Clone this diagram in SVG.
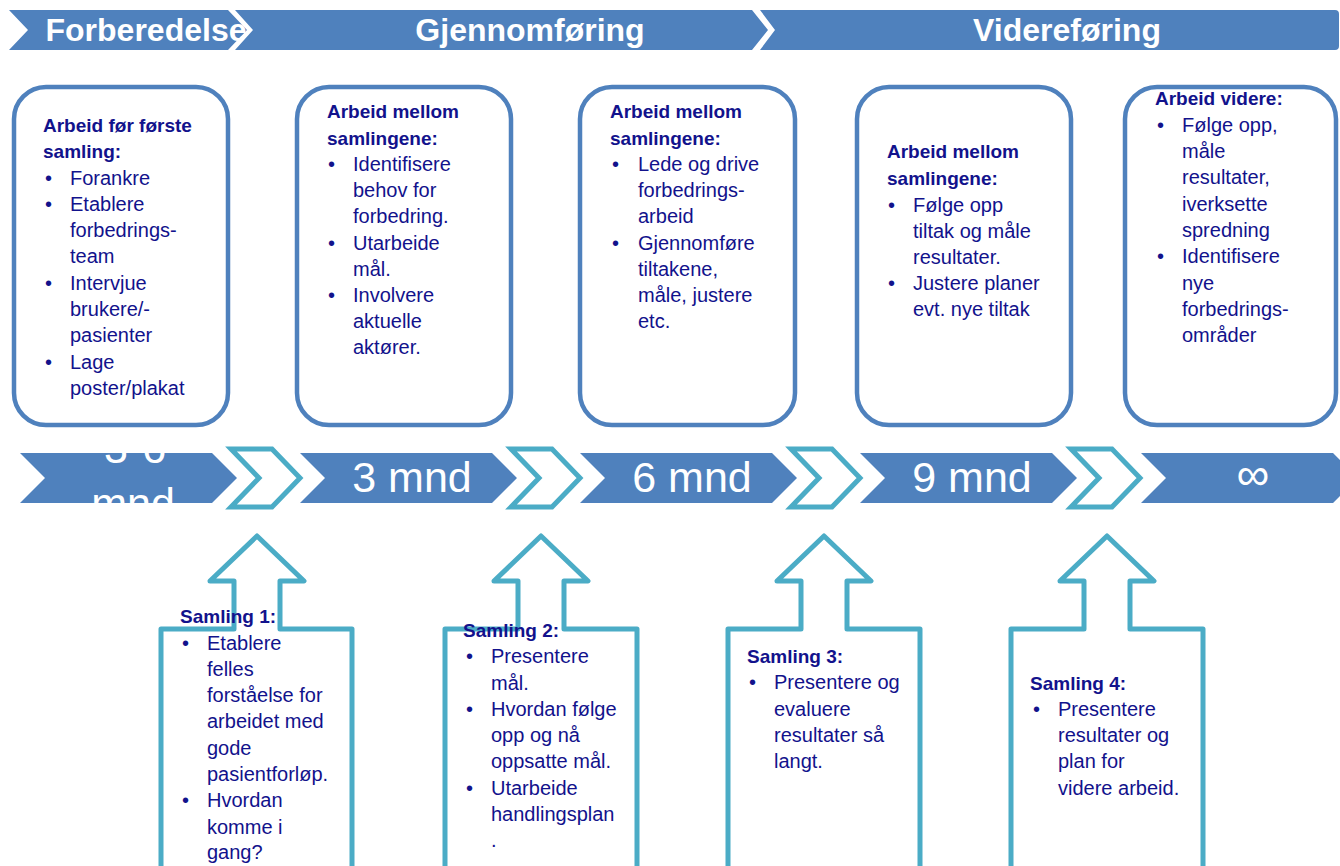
<svg xmlns="http://www.w3.org/2000/svg" width="1340" height="866" viewBox="0 0 1340 866">
<style>
.hdr{fill:#4f81bd}
.htxt{font-family:"Liberation Sans",Arial,sans-serif;font-weight:bold;font-size:32px;fill:#ffffff;text-anchor:middle}
.tl{fill:#4f81bd}
.tlout{fill:#ffffff;stroke:#4bacc6;stroke-width:5}
.ttxt{font-family:"Liberation Sans",Arial,sans-serif;font-size:43px;fill:#ffffff;text-anchor:middle}
.box{fill:#ffffff;stroke:#4f81bd;stroke-width:4.5}
.arr{fill:#ffffff;stroke:#4bacc6;stroke-width:5;stroke-linejoin:round}
.t{font-family:"Liberation Sans",Arial,sans-serif;font-size:20px;fill:#12128c}
.h{font-weight:bold;font-size:19px}
</style>
<defs>
<clipPath id="c1"><polygon points="20,453 212,453 237,478 212,503 20,503 45,478"/></clipPath>
</defs>

<g id="header">
<polygon class="hdr" points="9,10 228,10 247,30 228,50 9,50 28,30"/>
<polygon class="hdr" points="235,10 752,10 768,30 752,50 235,50 253,30"/>
<path class="hdr" d="M760,10 L1335,10 Q1339,10 1339,14 L1339,46 Q1339,50 1335,50 L760,50 L775,30 Z"/>
<text class="htxt" x="146" y="41">Forberedelse</text>
<text class="htxt" x="530" y="41">Gjennomføring</text>
<text class="htxt" x="1067" y="41">Videreføring</text>
</g>

<g id="timeline">
<polygon class="tl" points="20,453 212,453 237,478 212,503 20,503 45,478"/>
<polygon class="tl" points="300,453 492,453 517,478 492,503 300,503 325,478"/>
<polygon class="tl" points="580,453 772,453 797,478 772,503 580,503 605,478"/>
<polygon class="tl" points="860,453 1052,453 1077,478 1052,503 860,503 885,478"/>
<polygon class="tl" points="1141,453 1333,453 1358,478 1333,503 1141,503 1166,478"/>
<polygon class="tlout" points="231,449 272,449 300,478 272,507 231,507 259,478"/>
<polygon class="tlout" points="511,449 552,449 580,478 552,507 511,507 539,478"/>
<polygon class="tlout" points="791,449 832,449 860,478 832,507 791,507 819,478"/>
<polygon class="tlout" points="1071,449 1112,449 1140,478 1112,507 1071,507 1099,478"/>
<g clip-path="url(#c1)">
<text class="ttxt" x="135" y="463">3-6</text>
<text class="ttxt" x="133" y="518">mnd</text>
</g>
<text class="ttxt" x="412" y="492">3 mnd</text>
<text class="ttxt" x="692" y="492">6 mnd</text>
<text class="ttxt" x="972" y="492">9 mnd</text>
<text class="ttxt" x="1253" y="490" style="font-size:46px">∞</text>
</g>

<g id="box1">
<rect class="box" x="14" y="87" width="214" height="338" rx="32"/>
<text class="t"><tspan class="h" x="43" y="132">Arbeid før første</tspan><tspan class="h" x="43" y="158">samling:</tspan>
<tspan x="45" y="185">•</tspan><tspan x="70" y="185">Forankre</tspan>
<tspan x="45" y="211">•</tspan><tspan x="70" y="211">Etablere</tspan>
<tspan x="70" y="237">forbedrings-</tspan>
<tspan x="70" y="263">team</tspan>
<tspan x="45" y="290">•</tspan><tspan x="70" y="290">Intervjue</tspan>
<tspan x="70" y="316">brukere/-</tspan>
<tspan x="70" y="342">pasienter</tspan>
<tspan x="45" y="369">•</tspan><tspan x="70" y="369">Lage</tspan>
<tspan x="70" y="395">poster/plakat</tspan></text>
</g>

<g id="box2">
<rect class="box" x="297" y="87" width="214" height="338" rx="32"/>
<text class="t"><tspan class="h" x="327" y="118">Arbeid mellom</tspan><tspan class="h" x="327" y="145">samlingene:</tspan>
<tspan x="328" y="171">•</tspan><tspan x="353" y="171">Identifisere</tspan>
<tspan x="353" y="197">behov for</tspan>
<tspan x="353" y="223">forbedring.</tspan>
<tspan x="328" y="250">•</tspan><tspan x="353" y="250">Utarbeide</tspan>
<tspan x="353" y="276">mål.</tspan>
<tspan x="328" y="302">•</tspan><tspan x="353" y="302">Involvere</tspan>
<tspan x="353" y="328">aktuelle</tspan>
<tspan x="353" y="354">aktører.</tspan></text>
</g>

<g id="box3">
<rect class="box" x="580" y="87" width="215" height="338" rx="32"/>
<text class="t"><tspan class="h" x="610" y="118">Arbeid mellom</tspan><tspan class="h" x="610" y="145">samlingene:</tspan>
<tspan x="612" y="171">•</tspan><tspan x="638" y="171">Lede og drive</tspan>
<tspan x="638" y="197">forbedrings-</tspan>
<tspan x="638" y="223">arbeid</tspan>
<tspan x="612" y="250">•</tspan><tspan x="638" y="250">Gjennomføre</tspan>
<tspan x="638" y="276">tiltakene,</tspan>
<tspan x="638" y="302">måle, justere</tspan>
<tspan x="638" y="328">etc.</tspan></text>
</g>

<g id="box4">
<rect class="box" x="857" y="87" width="214" height="338" rx="32"/>
<text class="t"><tspan class="h" x="887" y="158">Arbeid mellom</tspan><tspan class="h" x="887" y="185">samlingene:</tspan>
<tspan x="888" y="212">•</tspan><tspan x="913" y="212">Følge opp</tspan>
<tspan x="913" y="238">tiltak og måle</tspan>
<tspan x="913" y="264">resultater.</tspan>
<tspan x="888" y="290">•</tspan><tspan x="913" y="290">Justere planer</tspan>
<tspan x="913" y="316">evt. nye tiltak</tspan></text>
</g>

<g id="box5">
<rect class="box" x="1125" y="87" width="211" height="338" rx="32"/>
<text class="t"><tspan class="h" x="1155" y="105">Arbeid videre:</tspan>
<tspan x="1157" y="132">•</tspan><tspan x="1182" y="132">Følge opp,</tspan>
<tspan x="1182" y="158">måle</tspan>
<tspan x="1182" y="184">resultater,</tspan>
<tspan x="1182" y="211">iverksette</tspan>
<tspan x="1182" y="237">spredning</tspan>
<tspan x="1157" y="263">•</tspan><tspan x="1182" y="263">Identifisere</tspan>
<tspan x="1182" y="290">nye</tspan>
<tspan x="1182" y="316">forbedrings-</tspan>
<tspan x="1182" y="342">områder</tspan></text>
</g>

<g id="samling1">
<path class="arr" d="M257,536 L304,581 L280,581 L280,629 L352,629 L352,880 L161,880 L161,629 L234,629 L234,581 L210,581 Z"/>
<text class="t"><tspan class="h" x="180" y="623">Samling 1:</tspan>
<tspan x="182" y="650">•</tspan><tspan x="207" y="650">Etablere</tspan>
<tspan x="207" y="676">felles</tspan>
<tspan x="207" y="702">forståelse for</tspan>
<tspan x="207" y="728">arbeidet med</tspan>
<tspan x="207" y="755">gode</tspan>
<tspan x="207" y="781">pasientforløp.</tspan>
<tspan x="182" y="807">•</tspan><tspan x="207" y="807">Hvordan</tspan>
<tspan x="207" y="834">komme i</tspan>
<tspan x="207" y="859">gang?</tspan></text>
</g>

<g id="samling2">
<path class="arr" d="M541,536 L588,581 L564,581 L564,629 L637,629 L637,880 L445,880 L445,629 L518,629 L518,581 L494,581 Z"/>
<text class="t"><tspan class="h" x="463" y="637">Samling 2:</tspan>
<tspan x="466" y="663">•</tspan><tspan x="491" y="663">Presentere</tspan>
<tspan x="491" y="690">mål.</tspan>
<tspan x="466" y="716">•</tspan><tspan x="491" y="716">Hvordan følge</tspan>
<tspan x="491" y="742">opp og nå</tspan>
<tspan x="491" y="768">oppsatte mål.</tspan>
<tspan x="466" y="795">•</tspan><tspan x="491" y="795">Utarbeide</tspan>
<tspan x="491" y="821">handlingsplan</tspan>
<tspan x="491" y="847">.</tspan></text>
</g>

<g id="samling3">
<path class="arr" d="M824,536 L871,581 L847,581 L847,629 L920,629 L920,880 L728,880 L728,629 L801,629 L801,581 L777,581 Z"/>
<text class="t"><tspan class="h" x="747" y="663">Samling 3:</tspan>
<tspan x="749" y="689">•</tspan><tspan x="774" y="689">Presentere og</tspan>
<tspan x="774" y="716">evaluere</tspan>
<tspan x="774" y="742">resultater så</tspan>
<tspan x="774" y="768">langt.</tspan></text>
</g>

<g id="samling4">
<path class="arr" d="M1107,536 L1154,581 L1130,581 L1130,629 L1203,629 L1203,880 L1011,880 L1011,629 L1084,629 L1084,581 L1060,581 Z"/>
<text class="t"><tspan class="h" x="1030" y="690">Samling 4:</tspan>
<tspan x="1033" y="716">•</tspan><tspan x="1058" y="716">Presentere</tspan>
<tspan x="1058" y="742">resultater og</tspan>
<tspan x="1058" y="768">plan for</tspan>
<tspan x="1058" y="795">videre arbeid.</tspan></text>
</g>
</svg>
